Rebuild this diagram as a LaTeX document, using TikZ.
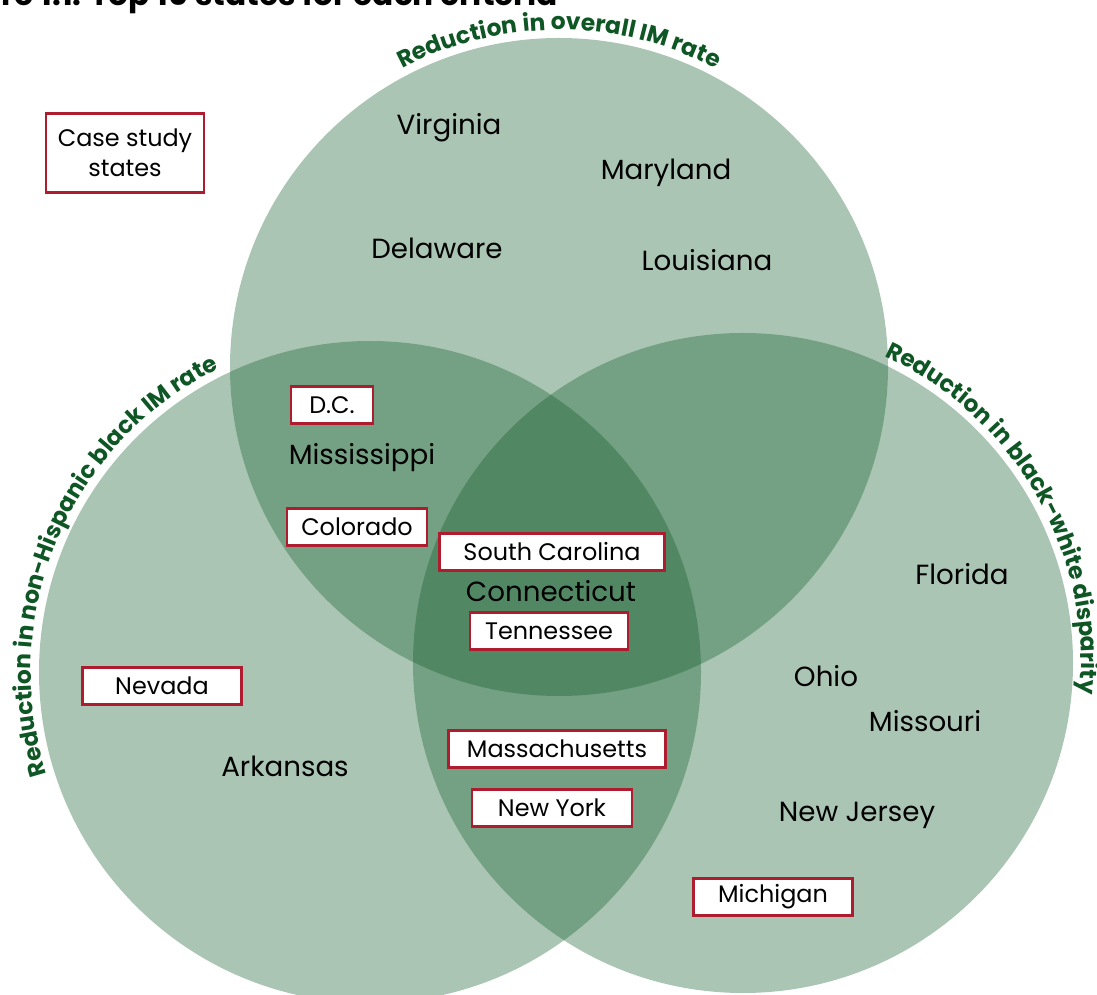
\documentclass[tikz,border=0pt]{standalone}
\usepackage{fontspec}
\setmainfont{Poppins}
\usetikzlibrary{decorations.text}

\definecolor{venngreen}{RGB}{20,95,45}
\definecolor{labelgreen}{RGB}{14,86,36}
\definecolor{casered}{RGB}{174,28,48}
\newcommand{\arcfont}{\fontsize{16.6}{20}\selectfont\bfseries\color{labelgreen}}

\begin{document}
\begin{tikzpicture}[
  x=0.025cm, y=0.025cm,
  venn/.style={fill=venngreen, fill opacity=0.36},
  statename/.style={font=\fontsize{19.7}{23}\selectfont},
  casestate/.style={draw=casered, line width=1.7pt, fill=white,
    font=\fontsize{17}{21}\selectfont, minimum height=0.925cm, inner sep=2pt},
  arclabel/.style={decorate, decoration={text along path, text align=center,
    text={|\arcfont|#1}}}
]
\useasboundingbox (0,0) rectangle (1097,994);

% title, cut off at the top
\begin{scope}
  \clip (0,0) rectangle (1097,994);
  \node[anchor=base east, font=\fontsize{22.2}{26}\selectfont\bfseries, inner sep=0pt] (title) at (558,988)
    {Figure 1.1. Top 10 states for each criteria};
\end{scope}

% the three criteria
\coordinate (T) at (559,627);
\coordinate (L) at (370,322);
\coordinate (R) at (743,331);
\fill[venn] (T) circle[radius=329];
\fill[venn] (L) circle[radius=331];
\fill[venn] (R) circle[radius=330];

\path[arclabel={Reduction in overall IM rate}]
  (T) ++(150:337) arc[start angle=150, end angle=30, radius=337];
\path[arclabel={Reduction in non-Hispanic black IM rate}]
  (L) ++(207:339) arc[start angle=207, end angle=107, radius=339];
\path[arclabel={Reduction in black-white disparity}]
  (R) ++(80:338) arc[start angle=80, end angle=-20, radius=338];

% states
\node[statename] (va) at (449,866) {Virginia};
\node[statename] (md) at (666,821) {Maryland};
\node[statename] (de) at (437,746) {Delaware};
\node[statename] (la) at (707,734) {Louisiana};
\node[statename] (ms) at (362,536) {Mississippi};
\node[statename] (ct) at (551,403) {Connecticut};
\node[statename] (fl) at (962,420) {Florida};
\node[statename] (oh) at (826,318) {Ohio};
\node[statename] (mo) at (925,273) {Missouri};
\node[statename] (ar) at (285,228) {Arkansas};
\node[statename] (nj) at (857,179) {New Jersey};

% case study states
\node[casestate, minimum width=3.95cm, minimum height=1.975cm, align=center] (key) at (125,841)
  {Case study\\states};
\node[casestate, minimum width=2.05cm] (dc) at (332,589) {D.C.};
\node[casestate, minimum width=3.5cm] (co) at (357,467) {Colorado};
\node[casestate, minimum width=5.625cm] (sc) at (552,442) {South Carolina};
\node[casestate, minimum width=3.95cm] (tn) at (549,363) {Tennessee};
\node[casestate, minimum width=3.975cm] (nv) at (162,308) {Nevada};
\node[casestate, minimum width=5.425cm] (ma) at (557,245) {Massachusetts};
\node[casestate, minimum width=4cm] (ny) at (552,186) {New York};
\node[casestate, minimum width=3.975cm] (mi) at (773,97) {Michigan};
\end{tikzpicture}
\end{document}
